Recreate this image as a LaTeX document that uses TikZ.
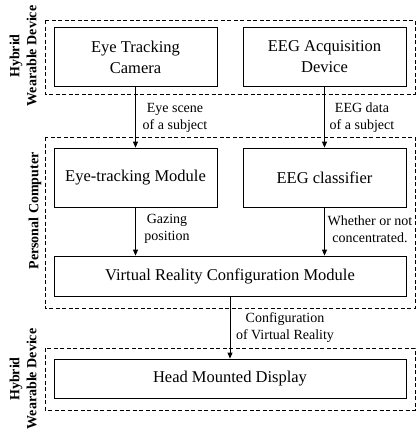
\documentclass[tikz,border=0pt]{standalone}
\usepackage{fontspec}
\setmainfont{Liberation Serif}
\usetikzlibrary{arrows.meta}
\begin{document}
\begin{tikzpicture}[x=1pt, y=-1pt,
    block/.style={draw, thick, align=center, inner sep=0pt, font=\fontsize{16.5}{21}\selectfont},
    group/.style={draw, thick, dash pattern=on 4pt off 2.5pt},
    flow/.style={thick, -{Triangle[length=6pt, width=5pt]}},
    note/.style={align=center, inner sep=0pt, font=\fontsize{14}{17}\selectfont},
    side/.style={rotate=90, align=center, inner sep=0pt, font=\bfseries\fontsize{14}{17}\selectfont}]
            \useasboundingbox (0, 0) rectangle (416, 432);
            % Groups
            \draw[group] (45, 20) rectangle (415, 94);
            \draw[group] (45, 137) rectangle (415, 308);
            \draw[group] (45, 348) rectangle (415, 410);
            \node[side] (hwd1) at (23, 56) {Hybrid\\Wearable Device};
            \node[side] (pc) at (35, 211) {Personal Computer};
            \node[side] (hwd2) at (23, 379) {Hybrid\\Wearable Device};

            % Blocks
            \node[block, minimum width=163, minimum height=59] (cam) at (135.5, 57) {Eye Tracking\\Camera};
            \node[block, minimum width=163, minimum height=59] (eegdev) at (324.5, 57) {EEG Acquisition\\Device};
            \node[block, minimum width=163, minimum height=59] (etm) at (135.5, 177.5) {Eye-tracking Module};
            \node[block, minimum width=163, minimum height=59] (eegc) at (324.5, 177.5) {EEG classifier};
            \node[block, minimum width=352, minimum height=40] (vrc) at (230, 276) {Virtual Reality Configuration Module};
            \node[block, minimum width=352, minimum height=39] (hmd) at (230, 378.5) {Head Mounted Display};

            % Arrows
            \draw[flow] (cam) -- (etm);
            \draw[flow] (eegdev) -- (eegc);
            \draw[flow] (etm) -- (etm |- vrc.north);
            \draw[flow] (eegc) -- (eegc |- vrc.north);
            \draw[flow] (vrc) -- (hmd);

            % Labels
            \node[note] (l1) at (175, 118) {Eye scene\\of a subject};
            \node[note] (l2) at (362, 118) {EEG data\\of a subject};
            \node[note] (l3) at (167, 229) {Gazing\\position};
            \node[note] (l4) at (370, 229) {Whether or not\\concentrated.};
            \node[note] (l5) at (285, 328) {Configuration\\of Virtual Reality};
\end{tikzpicture}
\end{document}
